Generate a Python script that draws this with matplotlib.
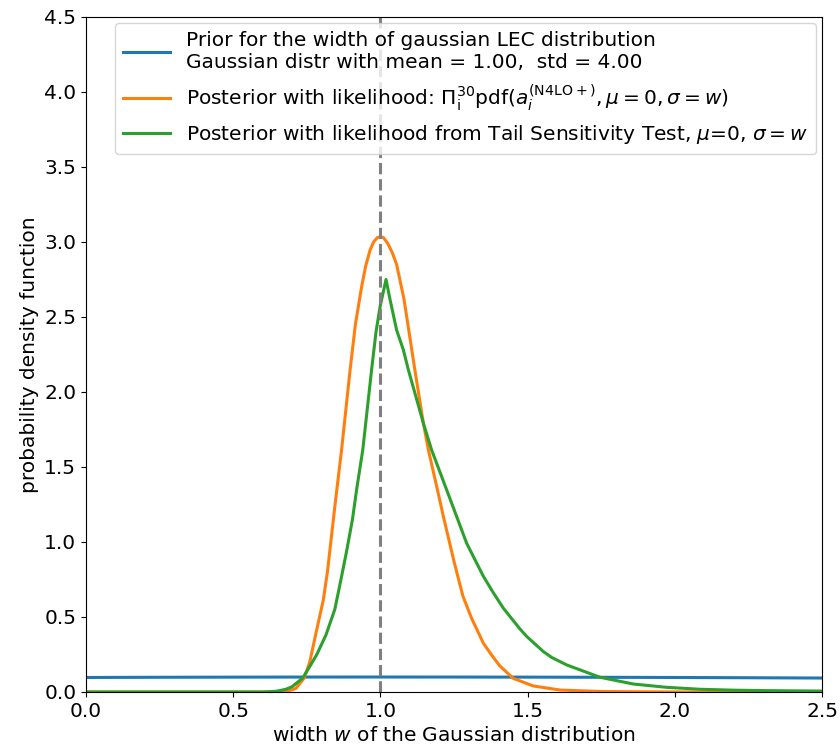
import numpy as np
import matplotlib
matplotlib.use("Agg")
import matplotlib.pyplot as plt

# prior: gaussian on the width, mean 1, std 4
w_prior = [0.0, 0.25, 0.5, 0.75, 1.0, 1.25, 1.5, 1.75, 2.0, 2.25, 2.5]
pdf_prior = [0.0966, 0.0980, 0.0989, 0.0995, 0.0997, 0.0995, 0.0989, 0.0979, 0.0966, 0.0949, 0.0929]

# posterior, product likelihood
w_post = [0.0, 0.60, 0.65, 0.68, 0.70, 0.713, 0.741, 0.76, 0.781, 0.806, 0.82, 0.846,
          0.868, 0.897, 0.915, 0.936, 0.95, 0.965, 0.977, 0.99, 1.0, 1.01, 1.025, 1.04,
          1.055, 1.08, 1.117, 1.146, 1.163, 1.19, 1.214, 1.25, 1.28, 1.31, 1.35, 1.38,
          1.406, 1.451, 1.519, 1.61, 1.75, 2.0, 2.5]
pdf_post = [0.0, 0.0, 0.001, 0.006, 0.014, 0.024, 0.093, 0.20, 0.391, 0.613, 0.80, 1.25,
            1.613, 2.147, 2.45, 2.70, 2.84, 2.947, 3.0, 3.03, 3.035, 3.03, 2.99, 2.93,
            2.85, 2.62, 2.147, 1.791, 1.613, 1.38, 1.169, 0.87, 0.64, 0.49, 0.324, 0.24,
            0.173, 0.091, 0.040, 0.013, 0.003, 0.0, 0.0]

# posterior, tail sensitivity test likelihood
w_tst = [0.0, 0.60, 0.628, 0.65, 0.679, 0.70, 0.736, 0.76, 0.784, 0.815, 0.845, 0.866,
         0.886, 0.905, 0.919, 0.94, 0.97, 0.985, 0.999, 1.019, 1.033, 1.055, 1.078,
         1.095, 1.146, 1.174, 1.236, 1.293, 1.35, 1.384, 1.417, 1.474, 1.497, 1.553,
         1.582, 1.633, 1.746, 1.859, 1.972, 2.086, 2.2, 2.312, 2.5]
pdf_tst = [0.0, 0.0, 0.002, 0.006, 0.018, 0.035, 0.093, 0.17, 0.25, 0.38, 0.55, 0.75,
           0.947, 1.15, 1.347, 1.613, 2.147, 2.40, 2.57, 2.75, 2.613, 2.413, 2.28,
           2.147, 1.791, 1.613, 1.29, 0.991, 0.77, 0.66, 0.56, 0.42, 0.37, 0.27,
           0.23, 0.18, 0.098, 0.053, 0.031, 0.018, 0.012, 0.009, 0.006]

plt.rcParams['font.size'] = 14.5

fig = plt.figure(figsize=(8.4, 7.51), dpi=100)
ax = fig.add_axes([0.1024, 0.0786, 0.8762, 0.8988])

ax.plot(w_prior, pdf_prior, color='C0', lw=2.2,
        label='Prior for the width of gaussian LEC distribution\n'
              'Gaussian distr with mean = 1.00,  std = 4.00')
ax.plot(w_post, pdf_post, color='C1', lw=2.2,
        label=r'Posterior with likelihood: $\Pi_{\rm i}^{30}{\rm pdf}(a_i^{\rm (N4LO+)}, \mu=0, \sigma=w)$')
ax.plot(w_tst, pdf_tst, color='C2', lw=2.2,
        label=r'Posterior with likelihood from Tail Sensitivity Test, $\mu$=0, $\sigma=w$')
ax.axvline(1.0, color='grey', ls='--', lw=2.2)

ax.set_xlim(0, 2.5)
ax.set_ylim(0, 4.5)
ax.set_xticks(np.arange(0, 2.51, 0.5))
ax.set_yticks(np.arange(0, 4.51, 0.5))
ax.set_xlabel('width $w$ of the Gaussian distribution')
ax.set_ylabel('probability density function')
ax.legend(loc='upper right', handlelength=2.3, borderaxespad=0.3)

fig.savefig('out.png', dpi=100)
